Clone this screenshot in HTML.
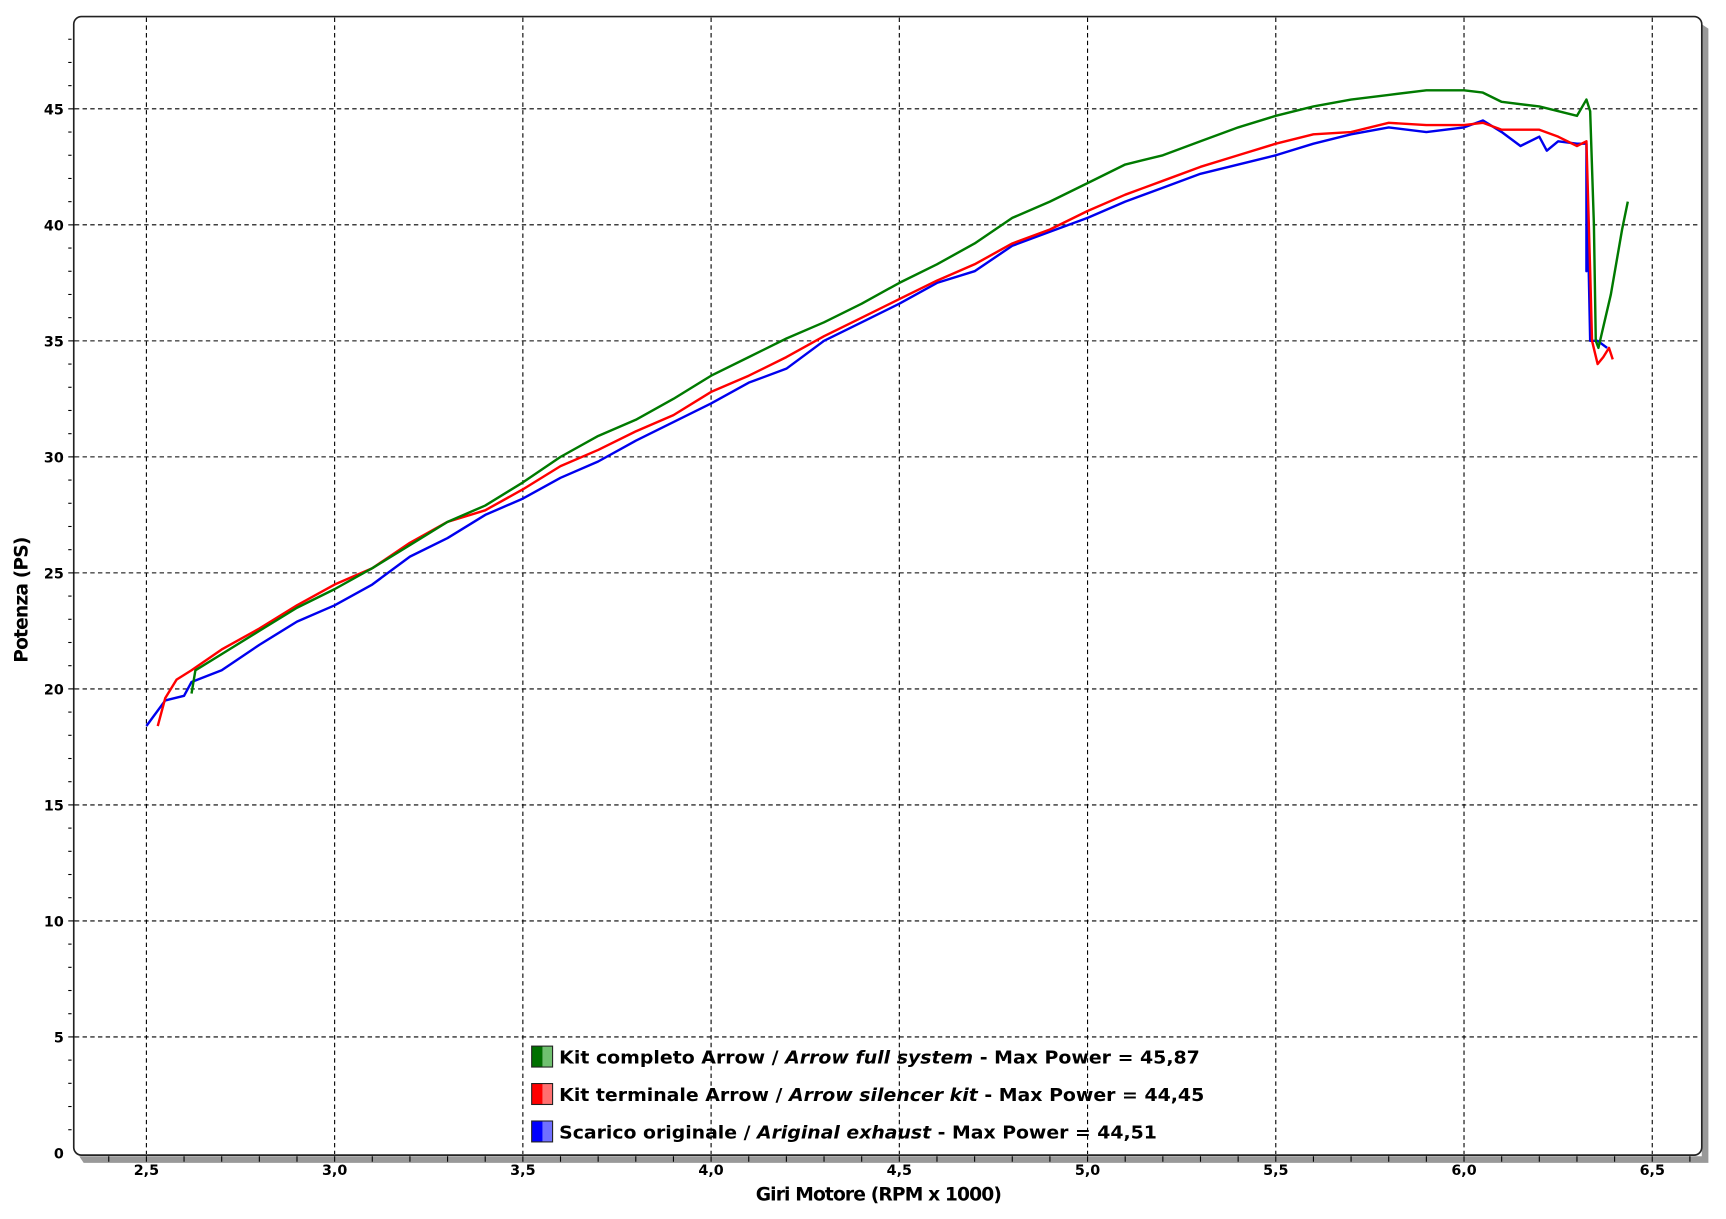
<!DOCTYPE html>
<html><head><meta charset="utf-8"><style>html,body{margin:0;padding:0;background:#fff}svg{display:block}</style></head>
<body>
<svg id="s" width="1726" height="1219" viewBox="0 0 1568 1107" preserveAspectRatio="none" xmlns="http://www.w3.org/2000/svg" font-family="'DejaVu Sans','Liberation Sans',sans-serif">
<rect x="0" y="0" width="1568" height="1107" fill="#fff"/>
<path d="M1546 22 L1552 26 L1552 1056 L76 1056 L72 1050 L1546 1050 Z" fill="#999"/>
<rect x="67" y="15" width="1479" height="1034" rx="7" fill="#fff" stroke="#222" stroke-width="1.5"/>
<g id="grid" stroke="#000" stroke-width="1" stroke-dasharray="4,3"></g>
<g id="ticks" stroke="#000" stroke-width="1"></g>
<g id="labels" font-size="13" font-weight="bold" fill="#000"></g>
<g id="curves" fill="none" stroke-width="2.2" stroke-linejoin="round"></g>
<text x="25" y="545" font-size="17" font-weight="bold" text-anchor="middle" transform="rotate(-90 25 545)" letter-spacing="-0.8">Potenza (PS)</text>
<text x="798" y="1090" font-size="17" font-weight="bold" text-anchor="middle" letter-spacing="-0.8">Giri Motore (RPM x 1000)</text>
<g font-size="16.5" font-weight="bold">
<rect x="483" y="950" width="10" height="19" fill="#007000"/><rect x="493" y="950" width="9" height="19" fill="#70c070"/><rect x="483" y="950" width="19" height="19" fill="none" stroke="#222"/>
<text x="508" y="966" textLength="582" lengthAdjust="spacingAndGlyphs">Kit completo Arrow / <tspan font-style="italic">Arrow full system</tspan> - Max Power = 45,87</text>
<rect x="483" y="984" width="10" height="19" fill="#f00"/><rect x="493" y="984" width="9" height="19" fill="#ff7070"/><rect x="483" y="984" width="19" height="19" fill="none" stroke="#222"/>
<text x="508" y="1000" textLength="586" lengthAdjust="spacingAndGlyphs">Kit terminale Arrow / <tspan font-style="italic">Arrow silencer kit</tspan> - Max Power = 44,45</text>
<rect x="483" y="1018" width="10" height="19" fill="#00f"/><rect x="493" y="1018" width="9" height="19" fill="#7070ff"/><rect x="483" y="1018" width="19" height="19" fill="none" stroke="#222"/>
<text x="508" y="1034" textLength="543" lengthAdjust="spacingAndGlyphs">Scarico originale / <tspan font-style="italic">Ariginal exhaust</tspan> - Max Power = 44,51</text>
</g>
</svg>
<script>
const NS="http://www.w3.org/2000/svg";
const X=r=>133+(r-2.5)*342.0, Y=p=>1047-p*21.07;
function el(g,t,a,txt){const e=document.createElementNS(NS,t);for(const k in a)e.setAttribute(k,a[k]);if(txt)e.textContent=txt;document.getElementById(g).appendChild(e);}
for(let r=2.5;r<=6.51;r+=0.5){el("grid","line",{x1:X(r),x2:X(r),y1:16,y2:1048});el("labels","text",{x:X(r),y:1067,"text-anchor":"middle"},r.toFixed(1).replace(".",","));}
for(let p=5;p<=45;p+=5){el("grid","line",{x1:68,x2:1545,y1:Y(p),y2:Y(p)});}
for(let p=0;p<=45;p+=5){el("labels","text",{x:58,y:Y(p)+5,"text-anchor":"end"},String(p));}
for(let p=1;p<=48;p++){el("ticks","line",{x1:62,x2:p%5?65:68,y1:Y(p),y2:Y(p)});}
for(let i=0;i<=42;i++){const r=2.4+i*0.1;if(X(r)<1544)el("ticks","line",{x1:X(r),x2:X(r),y1:1050,y2:1055});}
const G=[[2.62,19.8],[2.63,20.8],[2.7,21.5],[2.8,22.5],[2.9,23.5],[3.0,24.3],[3.1,25.2],[3.2,26.2],[3.3,27.2],[3.4,27.9],[3.5,28.9],[3.6,30.0],[3.7,30.9],[3.8,31.6],[3.9,32.5],[4.0,33.5],[4.1,34.3],[4.2,35.1],[4.3,35.8],[4.4,36.6],[4.5,37.5],[4.6,38.3],[4.7,39.2],[4.8,40.3],[4.9,41.0],[5.0,41.8],[5.1,42.6],[5.2,43.0],[5.3,43.6],[5.4,44.2],[5.5,44.7],[5.6,45.1],[5.7,45.4],[5.8,45.6],[5.9,45.8],[6.0,45.8],[6.05,45.7],[6.1,45.3],[6.2,45.1],[6.3,44.7],[6.325,45.4],[6.335,44.9],[6.345,40],[6.35,35],[6.357,34.7],[6.39,37],[6.42,39.8],[6.435,41]];
const R=[[2.53,18.4],[2.55,19.6],[2.58,20.4],[2.62,20.8],[2.7,21.7],[2.8,22.6],[2.9,23.6],[3.0,24.5],[3.1,25.2],[3.2,26.3],[3.3,27.2],[3.4,27.7],[3.5,28.6],[3.6,29.6],[3.7,30.3],[3.8,31.1],[3.9,31.8],[4.0,32.8],[4.1,33.5],[4.2,34.3],[4.3,35.2],[4.4,36.0],[4.5,36.8],[4.6,37.6],[4.7,38.3],[4.8,39.2],[4.9,39.8],[5.0,40.6],[5.1,41.3],[5.2,41.9],[5.3,42.5],[5.4,43.0],[5.5,43.5],[5.6,43.9],[5.7,44.0],[5.8,44.4],[5.9,44.3],[6.0,44.3],[6.05,44.4],[6.1,44.1],[6.2,44.1],[6.25,43.8],[6.3,43.4],[6.325,43.6],[6.335,38],[6.34,35],[6.355,34],[6.37,34.3],[6.385,34.7],[6.395,34.2]];
const B=[[2.5,18.4],[2.55,19.5],[2.6,19.7],[2.62,20.3],[2.7,20.8],[2.8,21.9],[2.9,22.9],[3.0,23.6],[3.1,24.5],[3.2,25.7],[3.3,26.5],[3.4,27.5],[3.5,28.2],[3.6,29.1],[3.7,29.8],[3.8,30.7],[3.9,31.5],[4.0,32.3],[4.1,33.2],[4.2,33.8],[4.3,35.0],[4.4,35.8],[4.5,36.6],[4.6,37.5],[4.7,38.0],[4.8,39.1],[4.9,39.7],[5.0,40.3],[5.1,41.0],[5.2,41.6],[5.3,42.2],[5.4,42.6],[5.5,43.0],[5.6,43.5],[5.7,43.9],[5.8,44.2],[5.9,44.0],[6.0,44.2],[6.05,44.5],[6.1,44.0],[6.15,43.4],[6.2,43.8],[6.22,43.2],[6.25,43.6],[6.3,43.5],[6.325,43.5],[6.325,38],[6.327,41.5],[6.335,35],[6.355,35],[6.38,34.7]];
for(const [d,c] of [[B,"#0000ee"],[R,"#ff0000"],[G,"#007a00"]]){el("curves","path",{stroke:c,d:"M"+d.map(q=>X(q[0]).toFixed(1)+" "+Y(q[1]).toFixed(1)).join(" L")});}
</script>
</body></html>
